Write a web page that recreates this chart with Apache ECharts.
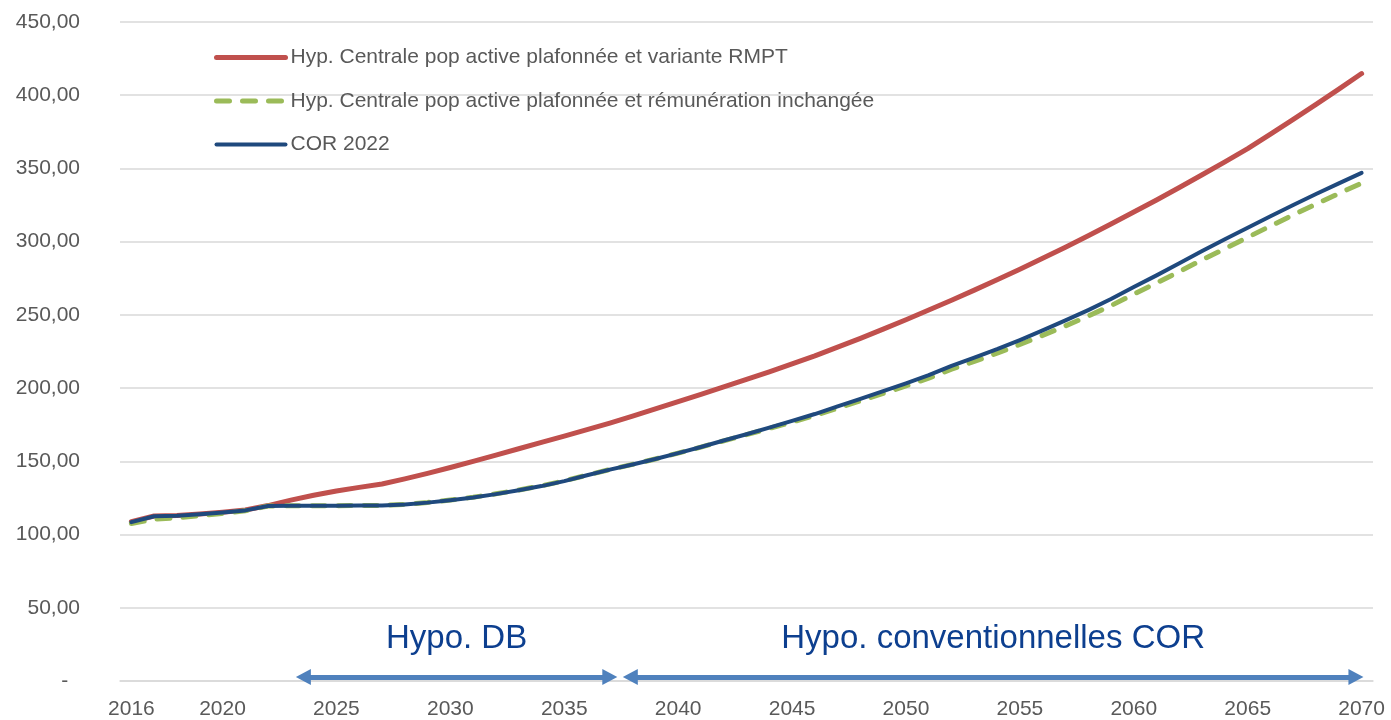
<!DOCTYPE html>
<html>
<head>
<meta charset="utf-8">
<script src="https://cdn.jsdelivr.net/npm/echarts@6/dist/echarts.min.js"></script>
<style>
  html, body { margin: 0; padding: 0; background: #fff; }
  #chart { width: 1391px; height: 720px; }
</style>
</head>
<body>
<div id="chart"></div>
<script>
// années 2016 -> 2070
const years = [];
for (let y = 2016; y <= 2070; y++) years.push(String(y));

const rmpt = [
  108.8, 112.7, 113.0, 114.0, 115.3, 116.8, 119.8, 123.5, 126.8, 129.7,
  132.2, 134.5, 138.0, 141.8, 145.8, 150.0, 154.3, 158.6, 162.9, 167.2,
  171.6, 176.1, 180.8, 185.8, 190.8, 195.8, 200.8, 205.9, 211.1, 216.5,
  222.0, 228.0, 234.0, 240.3, 246.7, 253.3, 260.0, 266.9, 274.0, 281.2,
  288.6, 296.2, 304.0, 312.0, 320.2, 328.5, 337.0, 345.7, 354.5, 363.5,
  373.5, 383.5, 393.8, 404.2, 414.8
];
const inchangee = [
  107.5, 110.5, 111.5, 113.0, 114.5, 116.2, 119.5, 119.7, 119.7, 119.7,
  119.8, 119.9, 120.6, 121.9, 123.6, 125.5, 127.8, 130.4, 133.3, 136.7,
  140.6, 144.4, 147.9, 151.6, 155.6, 159.7, 164.0, 168.2, 172.5, 176.8,
  181.3, 186.3, 191.3, 196.4, 201.5, 206.8, 212.9, 218.2, 223.8, 229.8,
  236.0, 242.5, 249.2, 256.3, 264.2, 271.8, 279.6, 287.6, 295.2, 303.0,
  310.7, 318.3, 325.7, 332.9, 340.0
];
const cor2022 = [
  108.5, 112.5, 112.8, 113.8, 115.0, 116.5, 119.5, 119.7, 119.7, 119.7,
  119.8, 119.8, 120.5, 121.8, 123.5, 125.3, 127.6, 130.2, 133.1, 136.5,
  140.5, 144.3, 147.8, 151.6, 155.6, 159.8, 164.2, 168.5, 173.0, 177.6,
  182.3, 187.5, 192.7, 198.0, 203.3, 208.8, 215.2, 220.8, 226.6, 232.8,
  239.4, 246.2, 253.3, 260.8, 269.0, 277.0, 285.2, 293.6, 301.6, 309.5,
  317.3, 325.0, 332.5, 339.8, 347.0
];

const seriesNames = [
  'Hyp. Centrale pop active plafonnée et variante RMPT',
  'Hyp. Centrale pop active plafonnée et rémunération inchangée',
  'COR 2022'
];
const seriesColors = ['#C0504D', '#9BBB59', '#1F497D'];
const seriesWidths = [5, 5, 4];
const seriesDash = ['solid', [13, 13], 'solid'];

// flèches de périodes (années fractionnaires, hauteur)
const periodLabels = ['Hypo. DB', 'Hypo. conventionnelles COR'];
const periodStart = [2023.55, 2037.9];
const periodEnd = [2037.0, 2069.75];
const arrowLevel = 2.7;

const chart = echarts.init(document.getElementById('chart'));
const font = 'Liberation Sans, Arial, sans-serif';

const lineSeries = [rmpt, inchangee, cor2022].map((data, i) => ({
  name: seriesNames[i],
  type: 'line',
  data: data,
  symbol: 'none',
  color: seriesColors[i],
  lineStyle: {
    width: seriesWidths[i],
    color: seriesColors[i],
    type: seriesDash[i],
    cap: 'round',
    join: 'round'
  }
}));

const option = {
  animation: false,
  textStyle: { fontFamily: font },
  grid: { left: 120, right: 18, top: 22, bottom: 39, containLabel: false },
  legend: {
    data: seriesNames.map((n, i) => ({
      name: n,
      itemStyle: { opacity: 0 },
      lineStyle: {
        width: seriesWidths[i],
        color: seriesColors[i],
        type: seriesDash[i],
        cap: 'round'
      }
    })),
    orient: 'vertical',
    left: 209,
    top: 42,
    itemWidth: 69,
    itemHeight: 20,
    itemGap: 22.5,
    textStyle: { fontSize: 21, color: '#595959', fontFamily: font }
  },
  xAxis: [
    {
      type: 'category',
      data: years,
      boundaryGap: true,
      axisTick: { show: false },
      axisLine: { lineStyle: { color: '#d9d9d9', width: 1.5 } },
      axisLabel: {
        interval: (idx, val) => idx === 0 || Number(val) % 5 === 0,
        color: '#595959',
        fontSize: 21,
        margin: 18
      }
    },
    {
      type: 'value',
      min: 2015.5,
      max: 2070.5,
      show: false
    }
  ],
  yAxis: {
    type: 'value',
    min: 0,
    max: 450,
    interval: 50,
    axisLine: { show: false },
    axisTick: { show: false },
    splitLine: { lineStyle: { color: '#d9d9d9', width: 1.5 } },
    axisLabel: {
      color: '#595959',
      fontSize: 21,
      margin: 40,
      formatter: v => v === 0 ? '-  ' : v.toFixed(2).replace('.', ',')
    }
  },
  series: lineSeries.concat([
    {
      name: 'periodes',
      type: 'line',
      xAxisIndex: 1,
      data: [],
      silent: true,
      markLine: {
        silent: true,
        symbol: ['triangle', 'triangle'],
        symbolSize: [16, 15],
        lineStyle: { color: '#4F81BD', width: 5, type: 'solid' },
        label: {
          show: true,
          position: 'middle',
          distance: 22,
          color: '#0D3F8F',
          fontSize: 33,
          fontFamily: font
        },
        data: periodLabels.map((txt, i) => [
          { coord: [periodStart[i], arrowLevel], name: txt, label: { formatter: txt } },
          { coord: [periodEnd[i], arrowLevel] }
        ])
      }
    }
  ])
};
chart.setOption(option);
</script>
</body>
</html>
